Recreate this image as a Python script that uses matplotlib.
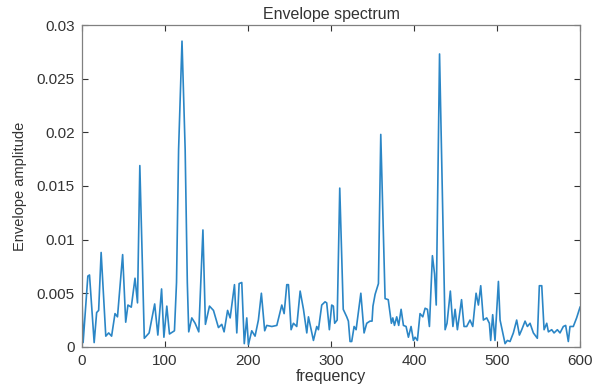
import numpy as np
import matplotlib
matplotlib.use("Agg")
from matplotlib import pyplot as plt

# valori (frequenza, ampiezza inviluppo)
freq = [0, 1.5, 7.2, 9.2, 14.8, 17.8, 20.2, 23.2, 28.8, 32.3, 35.8, 39.9, 42.9, 49.1, 52.8, 55.5,
	59.5, 64.0, 67.0, 69.8, 75.2, 81.0, 87.7, 91.5, 96.0, 98.8, 102.3, 105.5, 111.5, 114.0, 116.5,
	120.6, 124.4, 127.0, 128.7, 132.4, 136.4, 140.8, 145.8, 148.8, 153.7, 158.5, 164.5, 168.5,
	171.3, 175.5, 178.6, 183.8, 186.6, 189.4, 192.6, 195.6, 198.6, 200.6, 204.6, 208.6, 212.6,
	216.2, 220.2, 222.7, 228.8, 234.8, 240.8, 243.6, 246.8, 248.8, 252.0, 254.8, 258.8, 262.9,
	266.9, 270.9, 272.9, 278.9, 282.9, 284.9, 288.9, 292.9, 294.9, 298.1, 300.9, 302.9, 304.5,
	307.5, 310.6, 314.8, 319.0, 321.0, 323.0, 325.0, 327.9, 330.3, 336.0, 339.9, 343.1, 347.0,
	349.5, 350.6, 353.2, 357.2, 360.0, 365.2, 369.0, 372.8, 374.5, 376.5, 379.2, 381.6, 384.5,
	387.3, 390.5, 393.3, 396.5, 399.3, 401.3, 404.1, 407.3, 410.6, 413.4, 416.2, 418.6, 422.2,
	424.8, 426.8, 430.8, 437.5, 439.8, 443.8, 446.9, 449.5, 452.3, 457.3, 460.3, 463.5, 467.5,
	470.8, 474.8, 477.6, 480.4, 483.6, 487.6, 490.8, 492.4, 494.8, 497.6, 501.7, 503.7, 506.9,
	509.7, 512.5, 515.7, 519.7, 523.7, 527.0, 529.8, 533.8, 536.6, 539.8, 543.8, 548.6, 551.0,
	553.9, 556.7, 559.9, 561.9, 565.9, 568.7, 572.7, 575.9, 579.9, 582.7, 585.9, 587.9, 591.9,
	595.9, 600.0]
ampiezza = [0.0050, 0.0004, 0.0066, 0.0067, 0.0004, 0.0032, 0.0034, 0.0088, 0.0010, 0.0013, 0.0010,
	0.0031, 0.0028, 0.0086, 0.0023, 0.0039, 0.0037, 0.0064, 0.0041, 0.0169, 0.0008, 0.0013, 0.0040,
	0.0011, 0.0054, 0.0009, 0.0038, 0.0012, 0.0015, 0.0060, 0.0184, 0.0285, 0.0184, 0.0060, 0.0014,
	0.0027, 0.0022, 0.0014, 0.0109, 0.0021, 0.0038, 0.0034, 0.0018, 0.0021, 0.0014, 0.0034, 0.0027,
	0.0058, 0.0013, 0.0059, 0.0060, 0.0003, 0.0027, 0.0002, 0.0015, 0.0010, 0.0025, 0.0050, 0.0015,
	0.0020, 0.0019, 0.0020, 0.0039, 0.0031, 0.0058, 0.0058, 0.0016, 0.0022, 0.0019, 0.0052, 0.0035,
	0.0013, 0.0028, 0.0006, 0.0019, 0.0016, 0.0039, 0.0042, 0.0041, 0.0016, 0.0039, 0.0038, 0.0022,
	0.0025, 0.0148, 0.0035, 0.0028, 0.0024, 0.0005, 0.0005, 0.0019, 0.0016, 0.0050, 0.0013, 0.0022,
	0.0024, 0.0024, 0.0038, 0.0049, 0.0059, 0.0198, 0.0045, 0.0044, 0.0022, 0.0027, 0.0020, 0.0028,
	0.0020, 0.0035, 0.0020, 0.0019, 0.0009, 0.0019, 0.0006, 0.0009, 0.0006, 0.0031, 0.0028, 0.0036,
	0.0035, 0.0019, 0.0085, 0.0068, 0.0039, 0.0273, 0.0016, 0.0022, 0.0052, 0.0019, 0.0035, 0.0016,
	0.0044, 0.0019, 0.0019, 0.0025, 0.0019, 0.0050, 0.0039, 0.0057, 0.0025, 0.0027, 0.0022, 0.0006,
	0.0030, 0.0006, 0.0061, 0.0025, 0.0013, 0.0003, 0.0006, 0.0005, 0.0013, 0.0025, 0.0011, 0.0016,
	0.0024, 0.0019, 0.0022, 0.0013, 0.0008, 0.0057, 0.0057, 0.0016, 0.0022, 0.0014, 0.0016, 0.0013,
	0.0016, 0.0013, 0.0019, 0.0020, 0.0005, 0.0019, 0.0019, 0.0027, 0.0037]

x_ticks = [0, 100, 200, 300, 400, 500, 600]
y_ticks = [0, 0.005, 0.01, 0.015, 0.02, 0.025, 0.03]
y_tick_labels = ["0", "0.005", "0.01", "0.015", "0.02", "0.025", "0.03"]

def main():
	plt.rcParams['font.family'] = ['Liberation Sans', 'DejaVu Sans']
	grigio = '#333333'

	fig = plt.figure(figsize=(6.02, 3.88), dpi=100)
	ax = fig.add_axes([0.136, 0.106, 0.8275, 0.8295])

	#linea dello spettro, colore un po' piu' chiaro per l'immagine sfocata
	ax.plot(freq, ampiezza, color='#2b86c6', lw=1.2)

	ax.set_xlim([0, 600])
	ax.set_ylim([0, 0.03])
	ax.set_xticks(x_ticks)
	ax.set_yticks(y_ticks)
	ax.set_yticklabels(y_tick_labels)

	ax.tick_params(direction='in', top=True, right=True, length=4, width=0.8,
		labelsize=11, colors=grigio, pad=5)
	for s in ax.spines.values():
		s.set_color('#808080')
		s.set_linewidth(0.9)

	ax.set_title("Envelope spectrum", fontsize=11.5, color=grigio, pad=4)
	ax.set_xlabel("frequency", fontsize=11.5, color=grigio, labelpad=1)
	ax.set_ylabel("Envelope amplitude", fontsize=10.5, color=grigio, labelpad=7)

	fig.savefig("out.png", dpi=100)

if(__name__ == "__main__"):
	main()
